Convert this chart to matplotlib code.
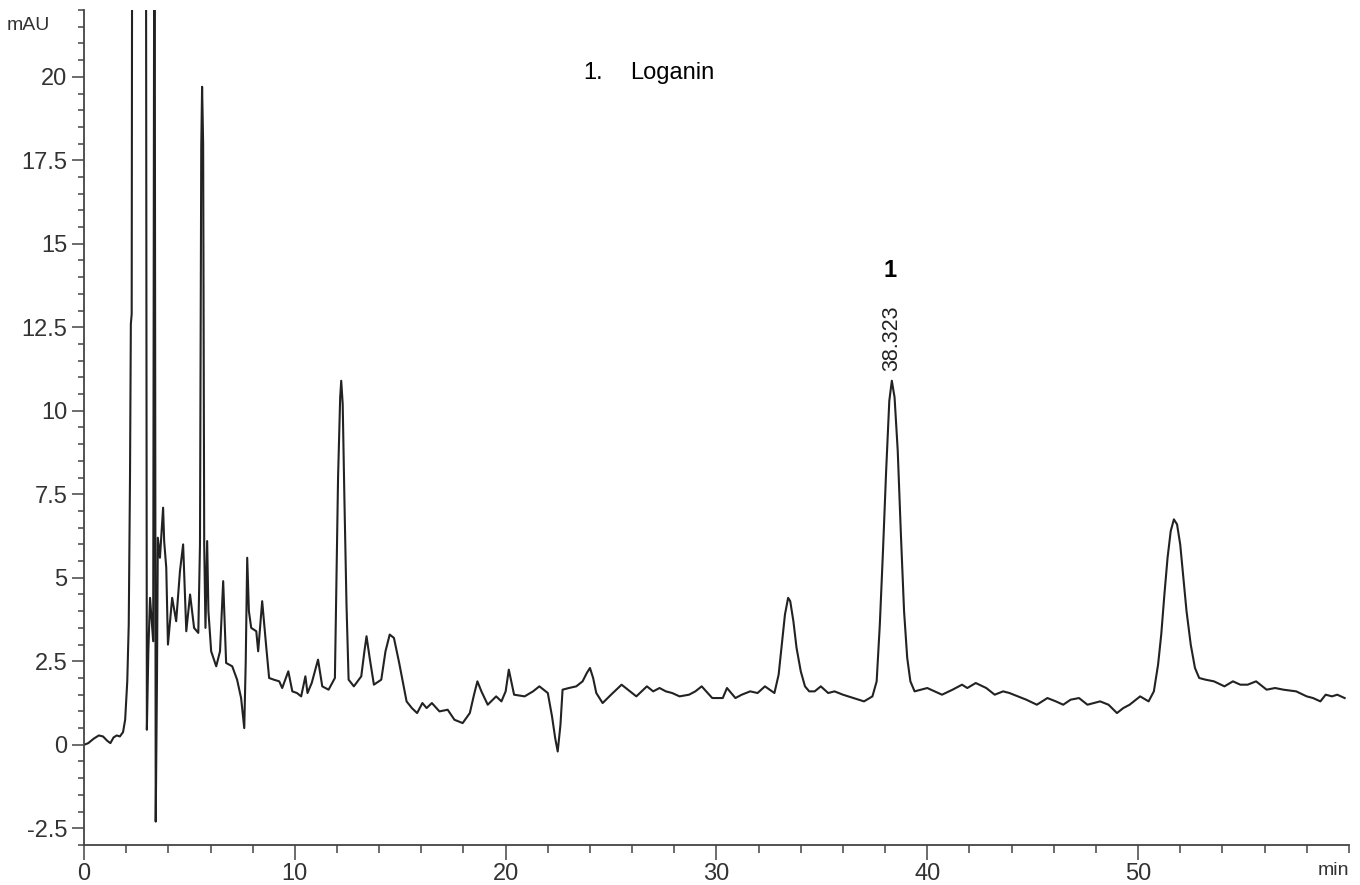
import numpy as np
import matplotlib
matplotlib.use("Agg")
import matplotlib.pyplot as plt
from matplotlib.ticker import MultipleLocator

# chromatogram trace (min, mAU)
time_min = [
    0.0, 0.2, 0.45, 0.7, 0.9, 1.1, 1.25, 1.4, 1.55, 1.7, 1.85, 1.95, 2.05, 2.12,
    2.18, 2.22, 2.26, 2.29, 2.93, 2.98, 3.05, 3.13, 3.2, 3.28, 3.34, 3.4, 3.46,
    3.5, 3.6, 3.75, 3.8, 3.9, 3.98, 4.18, 4.37, 4.55, 4.7, 4.85, 5.03, 5.22,
    5.42, 5.5, 5.56, 5.6, 5.65, 5.7, 5.76, 5.84, 5.9, 6.03, 6.27, 6.45, 6.6,
    6.74, 7.03, 7.26, 7.45, 7.6, 7.67, 7.74, 7.82, 7.93, 8.17, 8.26, 8.45, 8.64,
    8.78, 9.0, 9.26, 9.4, 9.69, 9.88, 10.1, 10.3, 10.5, 10.6, 10.8, 11.1, 11.3,
    11.6, 11.9, 11.97, 12.05, 12.15, 12.2, 12.27, 12.35, 12.45, 12.55, 12.8,
    13.15, 13.3, 13.4, 13.55, 13.75, 14.1, 14.3, 14.5, 14.7, 14.95, 15.3,
    15.55, 15.8, 16.05, 16.25, 16.5, 16.86, 17.25, 17.57, 17.96, 18.3, 18.5,
    18.66, 18.85, 19.15, 19.55, 19.8, 20.0, 20.15, 20.3, 20.4, 20.9, 21.3,
    21.6, 22.0, 22.2, 22.35, 22.47, 22.6, 22.7, 23.0, 23.35, 23.65, 23.85, 24.0,
    24.15, 24.3, 24.6, 25.0, 25.5, 25.8, 26.2, 26.7, 27.0, 27.3, 27.6, 27.9,
    28.25, 28.7, 29.0, 29.3, 29.8, 30.3, 30.5, 30.9, 31.2, 31.6, 31.95, 32.3,
    32.75, 32.95, 33.1, 33.25, 33.4, 33.5, 33.65, 33.8, 34.0, 34.2, 34.4,
    34.66, 34.95, 35.3, 35.6, 36.0, 36.5, 37.0, 37.4, 37.6, 37.75, 37.9, 38.05,
    38.2, 38.32, 38.45, 38.6, 38.75, 38.9, 39.05, 39.2, 39.4, 39.7, 40.0, 40.35,
    40.7, 41.2, 41.65, 41.9, 42.3, 42.8, 43.2, 43.6, 43.9, 44.3, 44.7, 45.2,
    45.7, 46.1, 46.45, 46.8, 47.2, 47.6, 48.2, 48.6, 49.0, 49.3, 49.6, 50.1,
    50.5, 50.75, 50.95, 51.1, 51.25, 51.4, 51.55, 51.7, 51.85, 52.0, 52.15,
    52.3, 52.5, 52.7, 52.9, 53.2, 53.6, 54.1, 54.5, 54.85, 55.2, 55.6, 56.1,
    56.5, 56.9, 57.5, 58.0, 58.3, 58.65, 58.9, 59.2, 59.45, 59.8,
]
signal_mau = [
    0.0, 0.05, 0.18, 0.28, 0.25, 0.12, 0.05, 0.22, 0.28, 0.25, 0.38, 0.75, 1.9,
    3.6, 8.0, 12.6, 12.9, 30.0, 30.0, 0.45, 2.8, 4.4, 3.8, 3.1, 30.0, -2.3, 2.0,
    6.2, 5.6, 7.1, 6.1, 5.3, 3.0, 4.4, 3.7, 5.2, 6.0, 3.4, 4.5, 3.5,
    3.35, 6.0, 17.9, 19.7, 18.0, 6.0, 3.5, 6.1, 4.0, 2.8, 2.35, 2.8, 4.9,
    2.45, 2.35, 1.95, 1.4, 0.5, 2.5, 5.6, 4.0, 3.5, 3.4, 2.8, 4.3, 2.95,
    2.0, 1.95, 1.9, 1.7, 2.2, 1.6, 1.55, 1.45, 2.05, 1.55, 1.85, 2.55, 1.75,
    1.65, 2.0, 4.8, 8.0, 10.4, 10.9, 10.2, 7.4, 4.2, 1.95, 1.75,
    2.05, 2.8, 3.25, 2.6, 1.8, 1.95, 2.8, 3.3, 3.2, 2.45, 1.3,
    1.1, 0.95, 1.25, 1.1, 1.25, 1.0, 1.05, 0.75, 0.65, 0.95, 1.5,
    1.9, 1.6, 1.2, 1.45, 1.3, 1.6, 2.25, 1.8, 1.5, 1.45, 1.6,
    1.75, 1.55, 0.85, 0.2, -0.2, 0.6, 1.65, 1.7, 1.75, 1.9, 2.15, 2.3,
    2.0, 1.55, 1.25, 1.5, 1.8, 1.65, 1.45, 1.75, 1.6, 1.7, 1.6, 1.55,
    1.45, 1.5, 1.6, 1.75, 1.4, 1.4, 1.7, 1.4, 1.5, 1.6, 1.55, 1.75,
    1.55, 2.1, 3.0, 3.9, 4.4, 4.3, 3.7, 2.9, 2.2, 1.75, 1.6,
    1.6, 1.75, 1.55, 1.6, 1.5, 1.4, 1.3, 1.45, 1.9, 3.6, 5.8, 8.2,
    10.3, 10.9, 10.4, 8.8, 6.3, 4.0, 2.6, 1.9, 1.6, 1.65, 1.7, 1.6,
    1.5, 1.65, 1.8, 1.7, 1.85, 1.7, 1.5, 1.6, 1.55, 1.45, 1.35, 1.2,
    1.4, 1.3, 1.2, 1.35, 1.4, 1.2, 1.3, 1.2, 0.95, 1.1, 1.2, 1.45,
    1.3, 1.6, 2.4, 3.3, 4.5, 5.6, 6.4, 6.75, 6.6, 6.0, 5.0,
    4.0, 3.0, 2.3, 2.0, 1.95, 1.9, 1.75, 1.9, 1.8, 1.8, 1.9, 1.65,
    1.7, 1.65, 1.6, 1.45, 1.4, 1.3, 1.5, 1.45, 1.5, 1.4,
]

peak_rt = 38.323
peak_height = 10.9
peak_no = "1"
compound = "Loganin"

narrow = ["Liberation Sans Narrow", "Liberation Sans", "DejaVu Sans"]
plt.rcParams["font.family"] = ["Liberation Sans", "DejaVu Sans"]

fig = plt.figure(figsize=(13.6, 8.85), dpi=100)
ax = fig.add_axes([0.0618, 0.0452, 0.930, 0.9435])

ax.plot(time_min, signal_mau, color="#222222", lw=1.5)

ax.set_xlim(0, 60)
ax.set_ylim(-3, 22)

for side in ["top", "right"]:
    ax.spines[side].set_visible(False)
for side in ["left", "bottom"]:
    ax.spines[side].set_color("#444444")
    ax.spines[side].set_linewidth(1.3)

ax.xaxis.set_major_locator(MultipleLocator(10))
ax.xaxis.set_minor_locator(MultipleLocator(2))
ax.set_xticks(np.arange(0, 51, 10))
ax.yaxis.set_major_locator(MultipleLocator(2.5))
ax.yaxis.set_minor_locator(MultipleLocator(0.5))
ax.set_yticks(np.arange(-2.5, 20.1, 2.5))
ax.set_yticklabels(["-2.5", "0", "2.5", "5", "7.5", "10", "12.5", "15", "17.5", "20"])

ax.tick_params(axis="x", which="major", length=11, width=1.1, color="#444444", pad=2)
ax.tick_params(axis="x", which="minor", length=6, width=1.1, color="#444444")
ax.tick_params(axis="y", which="major", length=9, width=1.1, color="#444444", pad=3)
ax.tick_params(axis="y", which="minor", length=4.5, width=1.1, color="#444444")
for lab in ax.get_xticklabels() + ax.get_yticklabels():
    lab.set_family(narrow)
    lab.set_fontsize(17)
    lab.set_color("#333333")

fig.text(28 / 1360, 1 - 26 / 885, "mAU", family=narrow, fontsize=14,
         color="#333333", ha="center", va="center")
ax.text(60, -3.5, "min", family=narrow, fontsize=14, color="#333333",
        ha="right", va="top")

ax.text(23.7, 20.1, "1.", fontsize=17, ha="left", va="center")
ax.text(25.9, 20.1, compound, fontsize=17, ha="left", va="center")

ax.text(peak_rt, peak_height + 0.3, f"{peak_rt:.3f}", rotation=90, fontsize=15.5,
        ha="center", va="bottom", color="#222222")
ax.text(peak_rt - 0.1, 14.2, peak_no, fontsize=17, fontweight="bold",
        ha="center", va="center")

fig.savefig("out.png", dpi=100)
